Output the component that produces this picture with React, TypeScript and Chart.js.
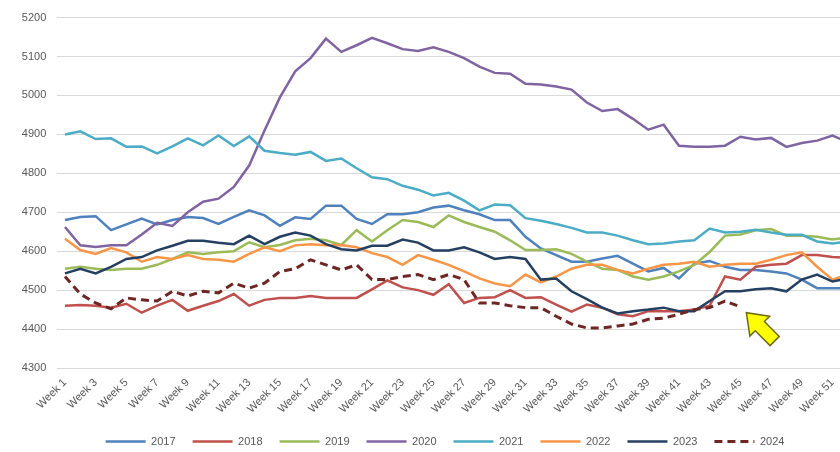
import React, { useEffect, useRef } from 'react';
import { Chart, registerables } from 'chart.js';

Chart.register(...registerables);

const weeks: string[] = [
  'Week 1','Week 2','Week 3','Week 4','Week 5','Week 6','Week 7','Week 8','Week 9','Week 10',
  'Week 11','Week 12','Week 13','Week 14','Week 15','Week 16','Week 17','Week 18','Week 19','Week 20',
  'Week 21','Week 22','Week 23','Week 24','Week 25','Week 26','Week 27','Week 28','Week 29','Week 30',
  'Week 31','Week 32','Week 33','Week 34','Week 35','Week 36','Week 37','Week 38','Week 39','Week 40',
  'Week 41','Week 42','Week 43','Week 44','Week 45','Week 46','Week 47','Week 48','Week 49','Week 50',
  'Week 51','Week 52',
];

const s2017 = [4680,4688,4690,4654,4669,4684,4669,4680,4688,4685,4670,4688,4705,4692,4665,4687,4683,4717,4717,4683,4670,4695,4695,4700,4712,4717,4705,4695,4680,4680,4637,4607,4590,4573,4573,4581,4588,4568,4548,4557,4530,4568,4575,4560,4552,4552,4548,4543,4527,4505,4505,4505];
const s2018 = [4460,4462,4460,4455,4465,4442,4460,4475,4447,4460,4472,4490,4460,4475,4480,4480,4485,4480,4480,4480,4502,4525,4507,4500,4488,4515,4467,4480,4482,4500,4480,4482,4463,4445,4463,4455,4438,4433,4446,4446,4446,4450,4460,4535,4527,4560,4565,4568,4590,4590,4585,4583];
const s2019 = [4555,4560,4555,4552,4555,4555,4565,4580,4597,4593,4597,4600,4623,4610,4616,4628,4632,4628,4616,4654,4625,4654,4680,4675,4662,4692,4675,4662,4650,4628,4603,4603,4605,4593,4573,4555,4552,4535,4527,4535,4548,4565,4598,4640,4643,4654,4657,4640,4640,4637,4630,4635];
const s2020 = [4662,4615,4611,4615,4615,4643,4673,4665,4700,4727,4735,4765,4820,4910,4995,5062,5096,5146,5112,5129,5148,5134,5119,5114,5124,5112,5096,5074,5058,5056,5030,5028,5023,5015,4982,4960,4965,4940,4912,4925,4871,4868,4868,4871,4894,4887,4891,4868,4878,4884,4897,4880];
const s2021 = [4900,4908,4888,4890,4868,4869,4851,4869,4890,4872,4897,4870,4895,4858,4852,4848,4855,4832,4838,4813,4790,4785,4768,4758,4743,4750,4730,4705,4720,4718,4685,4678,4670,4660,4648,4648,4640,4628,4618,4620,4625,4628,4658,4648,4650,4655,4648,4642,4642,4625,4620,4625];
const s2022 = [4632,4603,4593,4608,4597,4573,4585,4580,4590,4580,4578,4573,4593,4610,4600,4615,4618,4615,4616,4610,4595,4585,4565,4590,4578,4565,4548,4530,4517,4510,4540,4520,4535,4555,4565,4565,4552,4543,4555,4565,4568,4573,4560,4565,4568,4568,4578,4590,4597,4560,4527,4540];
const s2023 = [4543,4555,4543,4560,4580,4585,4602,4614,4627,4627,4622,4618,4640,4618,4637,4648,4640,4618,4605,4602,4614,4614,4630,4622,4602,4602,4610,4597,4580,4585,4580,4527,4530,4497,4477,4455,4440,4446,4450,4455,4446,4446,4472,4497,4497,4502,4505,4497,4527,4540,4522,4530];
const s2024: (number | null)[] = [4535,4490,4467,4452,4480,4475,4472,4497,4485,4497,4493,4518,4505,4518,4548,4555,4578,4565,4552,4565,4527,4527,4535,4540,4527,4540,4527,4467,4467,4460,4455,4455,4433,4413,4403,4403,4408,4413,4425,4428,4438,4450,4455,4472,4457,null,null,null,null,null,null,null];

const seriesNames = ['2017','2018','2019','2020','2021','2022','2023','2024'];
const seriesData = [s2017, s2018, s2019, s2020, s2021, s2022, s2023, s2024];
const seriesColors = ['#4F81BD','#C0504D','#9BBB59','#8064A2','#4BACC6','#F79646','#243F60','#6E2624'];
const seriesDash = [[], [], [], [], [], [], [], [8, 5]];
const seriesWidth = [2.5, 2.5, 2.5, 2.5, 2.5, 2.5, 2.5, 3];

const yMin = 4300;
const yMax = 5200;
const yStep = 100;
const arrowValue = 4442;

const FONT = "'Liberation Sans', Arial, sans-serif";
const TEXT = '#595959';

const arrowPlugin = {
  id: 'arrowNote',
  afterDatasetsDraw(chart: any) {
    const xs = chart.scales.x;
    const ys = chart.scales.y;
    let last = 0;
    s2024.forEach((v, i) => { if (v !== null) last = i; });
    const tx = xs.getPixelForValue(last) + 6;
    const ty = ys.getPixelForValue(arrowValue);
    const ux = Math.SQRT1_2, uy = Math.SQRT1_2;
    const px = -uy, py = ux;
    const headLen = 19, headHalf = 14, shaftHalf = 6.5, len = 40;
    const pt = (u: number, v: number): [number, number] => [tx + ux * u + px * v, ty + uy * u + py * v];
    const pts = [pt(0, 0), pt(headLen, headHalf), pt(headLen, shaftHalf), pt(len, shaftHalf), pt(len, -shaftHalf), pt(headLen, -shaftHalf), pt(headLen, -headHalf)];
    const ctx = chart.ctx;
    ctx.save();
    ctx.beginPath();
    ctx.moveTo(pts[0][0], pts[0][1]);
    for (let i = 1; i < pts.length; i++) ctx.lineTo(pts[i][0], pts[i][1]);
    ctx.closePath();
    ctx.fillStyle = '#FFFF00';
    ctx.fill();
    ctx.lineWidth = 1.5;
    ctx.strokeStyle = '#6b6b10';
    ctx.lineJoin = 'miter';
    ctx.stroke();
    ctx.restore();
  },
};

export default function App() {
  const ref = useRef<HTMLCanvasElement>(null);
  useEffect(() => {
    if (!ref.current) return;
    const chart = new Chart(ref.current, {
      type: 'line',
      data: {
        labels: weeks,
        datasets: seriesNames.map((name, i) => ({
          label: name,
          data: seriesData[i],
          borderColor: seriesColors[i],
          backgroundColor: seriesColors[i],
          borderWidth: seriesWidth[i],
          borderDash: seriesDash[i],
          pointRadius: 0,
          pointHoverRadius: 0,
          tension: 0,
          fill: false,
          spanGaps: false,
          order: 8 - i,
        })),
      },
      options: {
        responsive: false,
        animation: false,
        devicePixelRatio: 1,
        layout: { padding: { top: 12, right: 0, left: 0, bottom: 0 } },
        plugins: {
          tooltip: { enabled: false },
          legend: {
            position: 'bottom',
            labels: {
              usePointStyle: true,
              pointStyle: 'line',
              pointStyleWidth: 40,
              padding: 17,
              color: TEXT,
              font: { family: FONT, size: 11 },
              generateLabels: (c: any) =>
                seriesNames.map((name, i) => ({
                  text: name,
                  datasetIndex: i,
                  fillStyle: seriesColors[i],
                  strokeStyle: seriesColors[i],
                  fontColor: TEXT,
                  lineWidth: seriesWidth[i],
                  lineDash: seriesDash[i],
                  lineCap: 'butt',
                  pointStyle: 'line',
                  hidden: !c.isDatasetVisible(i),
                })),
            },
          },
        },
        scales: {
          x: {
            offset: true,
            grid: { display: false, drawTicks: false },
            border: { display: false },
            afterFit: (s: any) => { s.height = 51; },
            ticks: {
              autoSkip: false,
              minRotation: 45,
              maxRotation: 45,
              padding: 8,
              color: TEXT,
              font: { family: FONT, size: 11 },
              callback: (_v: any, i: number) => (i % 2 === 0 ? weeks[i] : ''),
            },
          },
          y: {
            min: yMin,
            max: yMax,
            grid: { color: '#d9d9d9', lineWidth: 1, drawTicks: false },
            border: { display: false },
            afterFit: (s: any) => { s.width = 57.3; },
            ticks: {
              stepSize: yStep,
              padding: 11,
              color: TEXT,
              font: { family: FONT, size: 11 },
              callback: (v: any) => String(v),
            },
          },
          edge: {
            type: 'linear',
            position: 'right',
            display: true,
            grid: { display: false, drawTicks: false },
            border: { display: false },
            ticks: { display: false },
            afterFit: (s: any) => { s.width = 34.5; },
          },
        },
      },
      plugins: [arrowPlugin],
    } as any);
    return () => chart.destroy();
  }, []);
  return (
    <div style={{ position: 'absolute', left: 0, top: 0, width: 840, height: 452, overflow: 'hidden', background: '#fff' }}>
      <canvas ref={ref} width={890} height={457} style={{ display: 'block', width: 890, height: 457 }} />
    </div>
  );
}
